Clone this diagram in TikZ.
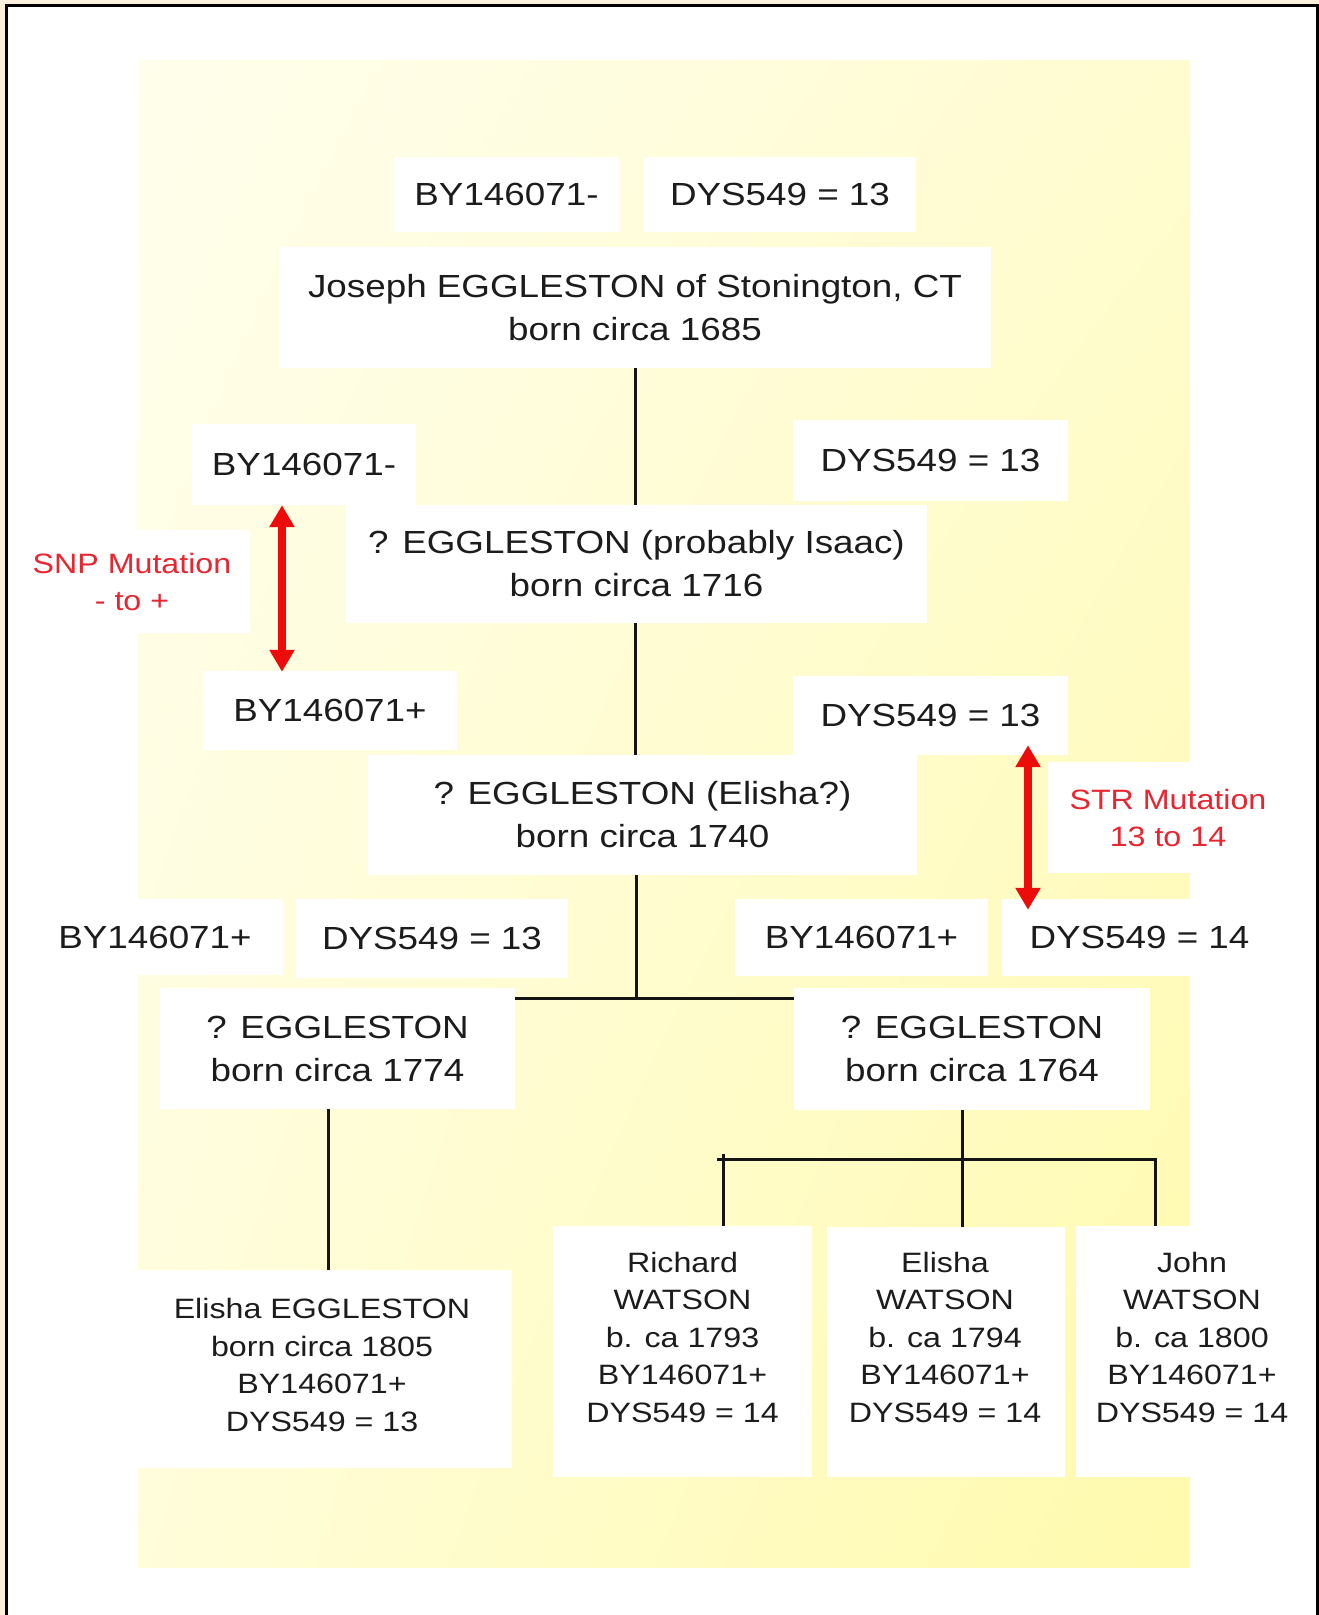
\documentclass[tikz,border=0pt]{standalone}
\usepackage{fontspec}
\setmainfont{Liberation Sans}
\newfontfamily\arialx[FakeStretch=1.15]{Liberation Sans}
\usetikzlibrary{arrows.meta,calc,shadings}
\definecolor{beige}{RGB}{251,240,220}
\definecolor{txt}{RGB}{28,28,28}
\definecolor{redarrow}{RGB}{236,12,12}
\definecolor{redtxt}{RGB}{232,38,48}
\definecolor{bgUL}{RGB}{255,254,236}
\definecolor{bgUR}{RGB}{255,252,208}
\definecolor{bgLL}{RGB}{255,253,218}
\definecolor{bgLR}{RGB}{255,250,172}
\begin{document}
\begin{tikzpicture}[x=1pt,y=-1pt,
  box/.style={fill=white, inner sep=0pt, text=txt, align=center,
    font=\arialx\fontsize{32}{43}\selectfont},
  plainbox/.style={fill=white, inner sep=0pt},
  smalltext/.style={inner sep=0pt, text=txt, align=center,
    font=\arialx\fontsize{28}{37.5}\selectfont},
  link/.style={line width=3pt, draw=black!92},
  mut/.style={draw=redarrow, line width=8pt,
    {Triangle[width=24pt,length=22pt]}-{Triangle[width=24pt,length=22pt]}},
  mutlabel/.style={fill=white, text=redtxt, align=center, inner sep=0pt,
    font=\arialx\fontsize{28}{37}\selectfont}]
\useasboundingbox (0,0) rectangle (1319,1615);
\clip (0,0) rectangle (1319,1615);
% frame
\fill[beige] (0,0) rectangle (1319,1615);
\fill[white] (6,5) rectangle (1317,1630);
\draw[line width=3pt, black] (6,1630) -- (6,5) -- (1317,5) -- (1317,1630);
% background panel
\shade[upper left=bgUL, upper right=bgUR, lower left=bgLL, lower right=bgLR]
  (138,60) rectangle (1190,1567);

% generation 1
\node[box, minimum width=225pt, minimum height=75pt] (topBY) at (506.5,194.5) {BY146071-};
\node[box, minimum width=272pt, minimum height=75pt] (topDYS) at (780,194.5) {DYS549 = 13};
\node[box, minimum width=712pt, minimum height=121pt] (joseph) at (635,307.5)
  {Joseph EGGLESTON of Stonington, CT\\born circa 1685};

% generation 2
\node[box, minimum width=224pt, minimum height=81pt] (BYa) at (304,464.5) {BY146071-};
\node[box, minimum width=275pt, minimum height=81pt] (DYSa) at (930.5,460.5) {DYS549 = 13};
\node[box, minimum width=581pt, minimum height=118pt] (isaac) at (636.5,564)
  {? EGGLESTON (probably Isaac)\\born circa 1716};

% generation 3
\node[box, minimum width=254pt, minimum height=79pt] (BYb) at (330,710.5) {BY146071+};
\node[box, minimum width=275pt, minimum height=79pt] (DYSb) at (930.5,715.5) {DYS549 = 13};
\node[box, minimum width=549pt, minimum height=120pt] (e1740) at (642.5,815)
  {? EGGLESTON (Elisha?)\\born circa 1740};

% generation 4
\node[box, minimum width=256pt, minimum height=76pt] (BYc) at (155,937) {BY146071+};
\node[box, minimum width=272pt, minimum height=79pt] (DYSc) at (432,938.5) {DYS549 = 13};
\node[box, minimum width=253pt, minimum height=77pt] (BYd) at (861.5,937.5) {BY146071+};
\node[box, minimum width=275pt, minimum height=77pt] (DYSd) at (1139.5,937.5) {DYS549 = 14};
\node[box, minimum width=355pt, minimum height=121pt] (e1774) at (337.5,1048.5)
  {? EGGLESTON\\born circa 1774};
\node[box, minimum width=356pt, minimum height=122pt] (e1764) at (972,1049)
  {? EGGLESTON\\born circa 1764};

% generation 5
\node[plainbox, minimum width=378pt, minimum height=198pt] (eEgg) at (323,1369) {};
\node[smalltext] (eEggT) at (322,1365)
  {Elisha EGGLESTON\\born circa 1805\\BY146071+\\DYS549 = 13};
\node[plainbox, minimum width=259pt, minimum height=251pt] (richard) at (682.5,1351.5) {};
\node[smalltext] (richardT) at (682.5,1337)
  {Richard\\WATSON\\b. ca 1793\\BY146071+\\DYS549 = 14};
\node[plainbox, minimum width=238pt, minimum height=250pt] (ewatson) at (946,1352) {};
\node[smalltext] (ewatsonT) at (945,1337)
  {Elisha\\WATSON\\b. ca 1794\\BY146071+\\DYS549 = 14};
\node[plainbox, minimum width=232pt, minimum height=251pt] (john) at (1192,1351.5) {};
\node[smalltext] (johnT) at (1192,1337)
  {John\\WATSON\\b. ca 1800\\BY146071+\\DYS549 = 14};

% mutation labels
\node[mutlabel, minimum width=236pt, minimum height=103pt] (snp) at (132,581.5)
  {SNP Mutation\\- to +};
\node[mutlabel, minimum width=240pt, minimum height=111pt] (str) at (1168,817.5)
  {STR Mutation\\13 to 14};

% connectors
\draw[link] (joseph.south) -- (joseph.south |- isaac.north);
\draw[link] (joseph.south |- isaac.south) -- (joseph.south |- e1740.north);
\coordinate (jn) at (636,998);
\draw[link] (jn |- e1740.south) -- (jn);
\draw[link] (e1774.east |- jn) -- (e1764.west |- jn);
\coordinate (a) at ($(e1774.south)+(-9.5,0)$);
\draw[link] (a) -- (a |- eEgg.north);
\coordinate (b) at ($(e1764.south)+(-10,0)$);
\coordinate (barL) at (717,1159);
\coordinate (barR) at (1157,1159);
\coordinate (barM) at (b |- barL);
\coordinate (dR) at (723,1154);
\coordinate (dJ) at (1155,1159);
\draw[link] (b) -- (barM);
\draw[link] (barL) -- (barR);
\draw[link] (dR) -- (dR |- richard.north);
\draw[link] (barM) -- (barM |- ewatson.north);
\draw[link] (dJ) -- (dJ |- john.north);

% mutation arrows
\draw[mut] ($(BYa.south)+(-22,0)$) -- ($(BYb.north)+(-48,1)$);
\draw[mut] ($(DYSb.south)+(97.5,-10)$) -- ($(DYSd.north)+(-111.5,11)$);
\end{tikzpicture}
\end{document}
